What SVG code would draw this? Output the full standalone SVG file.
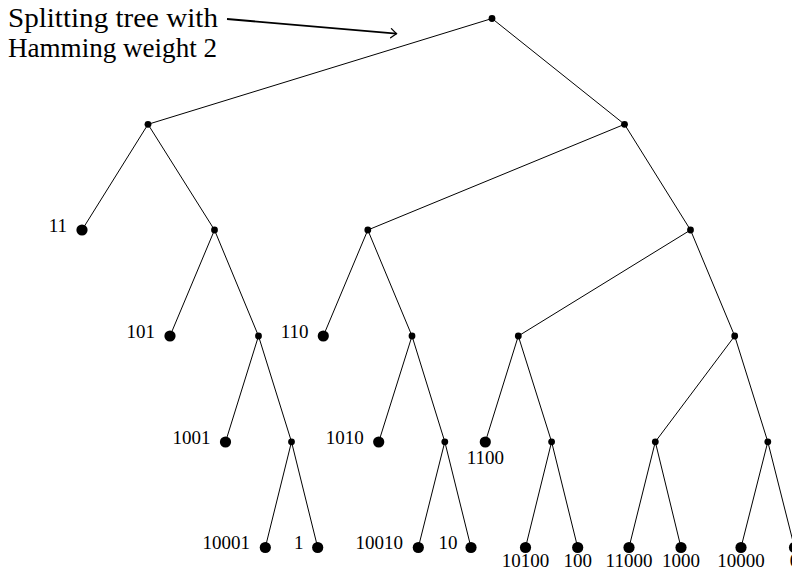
<svg xmlns="http://www.w3.org/2000/svg" width="792" height="571" viewBox="0 0 792 571">
<defs>
<style>
.e{stroke:#000;stroke-width:1;fill:none}
.i{fill:#000}
.l{fill:#000}
.t{font-family:"Liberation Serif","DejaVu Serif",serif;font-size:19px;fill:#000}
.tl{text-anchor:end}
.tb{text-anchor:middle}
.title{font-family:"Liberation Serif","DejaVu Serif",serif;font-size:27px;fill:#000}
</style>
<marker id="ah" markerUnits="userSpaceOnUse" markerWidth="14" markerHeight="14" viewBox="-8 -7 10 14" refX="0" refY="0" orient="auto">
<path d="M-5.5,-4.6 Q-1.5,-1.2 0,0 Q-1.5,1.2 -5.5,4.6" fill="none" stroke="#000" stroke-width="1.3" stroke-linecap="round"/>
</marker>
</defs>
<rect width="792" height="571" fill="#fff"/>
<g id="annotation">
<text class="title" x="8" y="26.7" textLength="210" lengthAdjust="spacingAndGlyphs">Splitting tree with</text>
<text class="title" x="8" y="57.3" textLength="209" lengthAdjust="spacingAndGlyphs">Hamming weight 2</text>
<path d="M227,19 L396.5,33.7" stroke="#000" stroke-width="1.8" fill="none" marker-end="url(#ah)"/>
</g>
<g id="connectors">
<path class="e" d="M492,18.5 L148,124.3 M492,18.5 L624.5,124.3"/>
<path class="e" d="M148,124.3 L82,230 M148,124.3 L214.5,230"/>
<path class="e" d="M624.5,124.3 L367.8,230 M624.5,124.3 L690.5,230"/>
<path class="e" d="M214.5,230 L170,336 M214.5,230 L258.5,336"/>
<path class="e" d="M367.8,230 L323.3,336 M367.8,230 L412,336"/>
<path class="e" d="M690.5,230 L518.3,336 M690.5,230 L734.7,336"/>
<path class="e" d="M258.5,336 L225.5,442 M258.5,336 L291.5,441.8"/>
<path class="e" d="M412,336 L378.7,442 M412,336 L444.8,441.8"/>
<path class="e" d="M518.3,336 L485.3,442 M518.3,336 L551.6,441.8"/>
<path class="e" d="M734.7,336 L655.3,441.8 M734.7,336 L767.8,441.8"/>
<path class="e" d="M291.5,441.8 L265.3,547.5 M291.5,441.8 L317.7,547.5"/>
<path class="e" d="M444.8,441.8 L418.3,547.5 M444.8,441.8 L471,547.5"/>
<path class="e" d="M551.6,441.8 L525.5,547.5 M551.6,441.8 L577.7,547.5"/>
<path class="e" d="M655.3,441.8 L629,547.5 M655.3,441.8 L681,547.5"/>
<path class="e" d="M767.8,441.8 L741,547.5 M767.8,441.8 L794.5,547.5"/>
</g>
<g id="n_root"><circle class="i" cx="492" cy="18.5" r="3.4"/></g>
<g id="n_1"><circle class="i" cx="148" cy="124.3" r="3.4"/></g>
<g id="n_0"><circle class="i" cx="624.5" cy="124.3" r="3.4"/></g>
<g id="n_11"><circle class="l" cx="82" cy="230" r="5.6"/><text class="t tl" x="67" y="231.7">11</text></g>
<g id="n_10x"><circle class="i" cx="214.5" cy="230" r="3.4"/></g>
<g id="n_01x"><circle class="i" cx="367.8" cy="230" r="3.4"/></g>
<g id="n_00x"><circle class="i" cx="690.5" cy="230" r="3.4"/></g>
<g id="n_101"><circle class="l" cx="170" cy="336" r="5.6"/><text class="t tl" x="155" y="337.7">101</text></g>
<g id="n_100x"><circle class="i" cx="258.5" cy="336" r="3.4"/></g>
<g id="n_110"><circle class="l" cx="323.3" cy="336" r="5.6"/><text class="t tl" x="308.5" y="337.7">110</text></g>
<g id="n_010x"><circle class="i" cx="412" cy="336" r="3.4"/></g>
<g id="n_001x"><circle class="i" cx="518.3" cy="336" r="3.4"/></g>
<g id="n_000x"><circle class="i" cx="734.7" cy="336" r="3.4"/></g>
<g id="n_1001"><circle class="l" cx="225.5" cy="442" r="5.6"/><text class="t tl" x="210.5" y="443.5">1001</text></g>
<g id="n_1000x"><circle class="i" cx="291.5" cy="441.8" r="3.4"/></g>
<g id="n_1010"><circle class="l" cx="378.7" cy="442" r="5.6"/><text class="t tl" x="363.7" y="443.5">1010</text></g>
<g id="n_0100x"><circle class="i" cx="444.8" cy="441.8" r="3.4"/></g>
<g id="n_1100"><circle class="l" cx="485.3" cy="442" r="5.6"/><text class="t tb" x="485.3" y="463.5">1100</text></g>
<g id="n_0010x"><circle class="i" cx="551.6" cy="441.8" r="3.4"/></g>
<g id="n_0001x"><circle class="i" cx="655.3" cy="441.8" r="3.4"/></g>
<g id="n_0000x"><circle class="i" cx="767.8" cy="441.8" r="3.4"/></g>
<g id="n_10001"><circle class="l" cx="265.3" cy="547.5" r="5.6"/><text class="t tl" x="250" y="549">10001</text></g>
<g id="n_1b"><circle class="l" cx="317.7" cy="547.5" r="5.6"/><text class="t tl" x="303.5" y="549">1</text></g>
<g id="n_10010"><circle class="l" cx="418.3" cy="547.5" r="5.6"/><text class="t tl" x="403" y="549">10010</text></g>
<g id="n_10b"><circle class="l" cx="471" cy="547.5" r="5.6"/><text class="t tl" x="457.5" y="549">10</text></g>
<g id="n_10100"><circle class="l" cx="525.5" cy="547.5" r="5.6"/><text class="t tb" x="525.5" y="567">10100</text></g>
<g id="n_100b"><circle class="l" cx="577.7" cy="547.5" r="5.6"/><text class="t tb" x="577.7" y="567">100</text></g>
<g id="n_11000"><circle class="l" cx="629" cy="547.5" r="5.6"/><text class="t tb" x="629" y="567">11000</text></g>
<g id="n_1000b"><circle class="l" cx="681" cy="547.5" r="5.6"/><text class="t tb" x="681" y="567">1000</text></g>
<g id="n_10000"><circle class="l" cx="741" cy="547.5" r="5.6"/><text class="t tb" x="741" y="567">10000</text></g>
<g id="n_0b"><circle class="l" cx="794.5" cy="547.5" r="5.6"/><text class="t tb" x="794.5" y="567">0</text></g>
</svg>
